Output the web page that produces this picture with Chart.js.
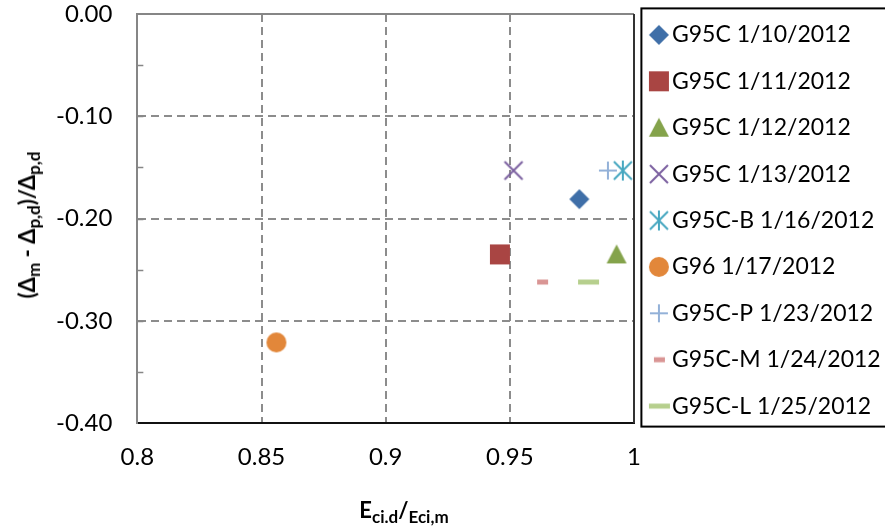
<!DOCTYPE html>
<html lang="en">
<head>
<meta charset="UTF-8">
<title>Deflection ratio vs. modulus ratio</title>
<style>
  body { margin: 0; background: #fff; }
  #wrap { position: relative; width: 885px; height: 531px; overflow: hidden; }
  canvas { display: block; }
  .axis-title { position: absolute; font-family: Lato, sans-serif; font-weight: bold; font-size: 22px; color: #000; white-space: nowrap; line-height: 1; }
  .axis-title sub { font-size: 17px; vertical-align: -5px; }
  #ytitle { left: 29px; top: 225px; transform: translate(-50%, -50%) rotate(-90deg); }
  #xtitle { left: 404px; top: 512px; transform: translate(-50%, -50%); }
</style>
</head>
<body>
<div id="wrap">
  <canvas id="chart" width="885" height="531"></canvas>
  <div class="axis-title" id="ytitle">(&Delta;<sub>m</sub> - &Delta;<sub>p,d</sub>)/&Delta;<sub>p,d</sub></div>
  <div class="axis-title" id="xtitle">E<sub>ci.d</sub>/<sub>Eci,m</sub></div>
</div>

<script src="https://cdn.jsdelivr.net/npm/chart.js"></script>
<script>
// one point per test
const testNames = [
  'G95C 1/10/2012', 'G95C 1/11/2012', 'G95C 1/12/2012', 'G95C 1/13/2012',
  'G95C-B 1/16/2012', 'G96 1/17/2012', 'G95C-P 1/23/2012', 'G95C-M 1/24/2012',
  'G95C-L 1/25/2012'
];
const modulusRatio = [0.978, 0.946, 0.993, 0.9515, 0.9955, 0.856, 0.9895, 0.963, 0.9815];
const deflectionRatio = [-0.181, -0.235, -0.235, -0.153, -0.153, -0.321, -0.153, -0.262, -0.262];

const xTicks = [0.8, 0.85, 0.9, 0.95, 1];
const yTicks = [-0.4, -0.3, -0.2, -0.1, 0];
const yMinorTicks = [-0.35, -0.3, -0.25, -0.2, -0.15, -0.1, -0.05];

// marker look for each series
const markerKind = ['diamond', 'square', 'triangle', 'x', 'asterisk', 'circle', 'plus', 'dashShort', 'dashLong'];
const markerColor = ['#3F6FA8', '#A94543', '#84A34B', '#7B60A0', '#46A7C0', '#E2873A', '#93B1D8', '#D99594', '#B6CF8D'];

function makeMarker(kind, color) {
  const c = document.createElement('canvas');
  const s = 24;
  c.width = s; c.height = s;
  const g = c.getContext('2d');
  const m = s / 2;
  g.fillStyle = color;
  g.strokeStyle = color;
  g.lineWidth = 2;
  g.beginPath();
  switch (kind) {
    case 'diamond':
      g.moveTo(m, m - 10); g.lineTo(m + 10, m); g.lineTo(m, m + 10); g.lineTo(m - 10, m);
      g.closePath(); g.fill();
      break;
    case 'square':
      g.fillRect(m - 10, m - 10, 20, 20);
      break;
    case 'triangle':
      g.moveTo(m, m - 10); g.lineTo(m + 10, m + 9); g.lineTo(m - 10, m + 9);
      g.closePath(); g.fill();
      break;
    case 'x':
      g.moveTo(m - 9, m - 9); g.lineTo(m + 9, m + 9);
      g.moveTo(m + 9, m - 9); g.lineTo(m - 9, m + 9);
      g.stroke();
      break;
    case 'asterisk':
      g.moveTo(m - 9, m - 9); g.lineTo(m + 9, m + 9);
      g.moveTo(m + 9, m - 9); g.lineTo(m - 9, m + 9);
      g.moveTo(m, m - 10); g.lineTo(m, m + 10);
      g.stroke();
      break;
    case 'circle':
      g.arc(m, m, 10, 0, Math.PI * 2); g.fill();
      break;
    case 'plus':
      g.moveTo(m - 9, m); g.lineTo(m + 9, m);
      g.moveTo(m, m - 9); g.lineTo(m, m + 9);
      g.stroke();
      break;
    case 'dashShort':
      g.fillRect(m - 5, m - 2.5, 11, 5);
      break;
    case 'dashLong':
      g.fillRect(m - 10, m - 2.5, 21, 5);
      break;
  }
  return c;
}

const datasets = testNames.map((name, i) => ({
  label: name,
  data: [{ x: modulusRatio[i], y: deflectionRatio[i] }],
  pointStyle: makeMarker(markerKind[i], markerColor[i]),
  backgroundColor: markerColor[i],
  borderColor: markerColor[i]
}));

// plot outline on top/right, short inside tick marks on the value axis, legend box
const frame = {
  id: 'frame',
  afterDatasetsDraw(chart) {
    const { ctx, chartArea: a, scales } = chart;
    ctx.save();
    ctx.lineWidth = 2;
    ctx.strokeStyle = '#868686';
    ctx.beginPath();
    ctx.moveTo(a.left, a.top); ctx.lineTo(a.right, a.top);
    ctx.stroke();
    ctx.strokeStyle = '#333';
    ctx.beginPath();
    ctx.moveTo(a.right, a.top); ctx.lineTo(a.right, a.bottom);
    ctx.stroke();
    ctx.strokeStyle = '#868686';
    ctx.lineWidth = 1.5;
    yMinorTicks.forEach(v => {
      const py = Math.round(scales.y.getPixelForValue(v)) + 0.5;
      ctx.beginPath();
      ctx.moveTo(a.left, py); ctx.lineTo(a.left + 6, py);
      ctx.stroke();
    });
    ctx.restore();
  },
  afterDraw(chart) {
    const boxes = chart.legend.legendHitBoxes;
    if (!boxes || !boxes.length) return;
    const first = boxes[0], last = boxes[boxes.length - 1];
    const ctx = chart.ctx;
    const top = first.top - 15;
    ctx.save();
    ctx.strokeStyle = '#000';
    ctx.lineWidth = 2;
    ctx.strokeRect(first.left - 16, top, chart.width, last.top + last.height + 9 - top);
    ctx.restore();
  }
};

const gridColor = (ends) => ctx => ends.includes(ctx.tick.value) ? 'rgba(0,0,0,0)' : '#8c8c8c';

new Chart(document.getElementById('chart'), {
  type: 'scatter',
  data: { datasets },
  plugins: [frame],
  options: {
    responsive: false,
    animation: false,
    layout: { autoPadding: false, padding: { left: 31, top: 0, bottom: 39, right: 0 } },
    elements: { point: { radius: 10, hoverRadius: 10 } },
    scales: {
      x: {
        type: 'linear',
        min: 0.8,
        max: 1,
        afterBuildTicks: s => { s.ticks = xTicks.map(v => ({ value: v })); },
        ticks: {
          color: '#000',
          padding: 20,
          font: { family: 'Lato', size: 24 },
          callback: v => String(parseFloat(v.toFixed(2)))
        },
        grid: { color: gridColor([0.8, 1]), lineWidth: 2, drawTicks: false },
        border: { color: '#111', width: 2, dash: [8, 5] }
      },
      y: {
        type: 'linear',
        min: -0.4,
        max: 0,
        afterBuildTicks: s => { s.ticks = yTicks.map(v => ({ value: v })); },
        // only half a label of room above the top tick, not label + padding
        afterFit: s => { s.paddingTop = 14; },
        ticks: {
          color: '#000',
          padding: 25,
          font: { family: 'Lato', size: 24 },
          callback: v => v.toFixed(2)
        },
        grid: { color: gridColor([-0.4, 0]), lineWidth: 2, drawTicks: false },
        border: { color: '#868686', width: 2, dash: [8, 5] }
      }
    },
    plugins: {
      tooltip: { enabled: false },
      legend: {
        position: 'right',
        align: 'start',
        maxWidth: 251,
        labels: {
          usePointStyle: true,
          boxWidth: 3,
          boxHeight: 10,
          padding: 23.4,
          color: '#000',
          font: { family: 'Lato', size: 23 }
        }
      }
    }
  }
});
</script>
</body>
</html>
